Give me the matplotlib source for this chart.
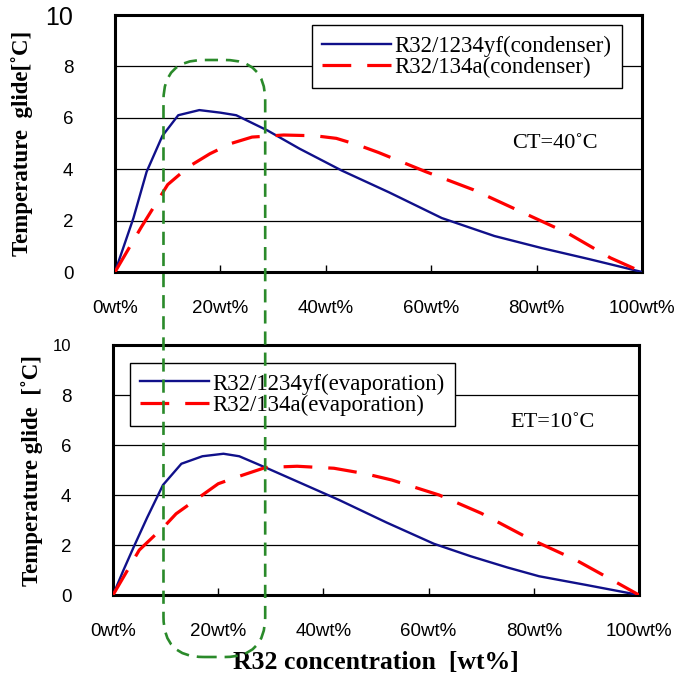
import matplotlib
matplotlib.use("Agg")
import matplotlib.pyplot as plt
from matplotlib.patches import FancyBboxPatch
from matplotlib.transforms import IdentityTransform

# condenser side, CT=40C
cond_yf_x = [0, 2, 3.5, 6, 9, 12, 16, 20, 23, 29, 35, 43, 52, 62, 72, 81, 90, 100]
cond_yf_y = [0, 1.2, 2.1, 3.9, 5.3, 6.1, 6.3, 6.2, 6.1, 5.5, 4.8, 3.95, 3.1, 2.1, 1.4, 0.93, 0.5, 0]
cond_134a_x = [0, 5, 10, 14, 18, 22, 26, 32, 38, 42, 46, 50, 59, 68, 77, 86, 94, 100]
cond_134a_y = [0, 1.75, 3.4, 4.1, 4.6, 5.0, 5.25, 5.33, 5.3, 5.2, 4.95, 4.65, 3.9, 3.2, 2.35, 1.5, 0.55, 0]

# evaporator side, ET=10C
evap_yf_x = [0, 2, 4, 6.5, 9.5, 13, 17, 21, 24, 29, 36, 43, 52, 61, 68, 75, 81, 90, 100]
evap_yf_y = [0, 1.0, 1.95, 3.1, 4.4, 5.25, 5.55, 5.65, 5.55, 5.1, 4.45, 3.8, 2.9, 2.05, 1.55, 1.1, 0.75, 0.4, 0]
evap_134a_x = [0, 5, 10, 12, 16, 20, 24, 29, 35, 42, 48, 53, 62, 70, 79, 88, 96, 100]
evap_134a_y = [0, 1.8, 2.8, 3.25, 3.85, 4.45, 4.75, 5.1, 5.15, 5.07, 4.85, 4.6, 4.0, 3.27, 2.27, 1.4, 0.47, 0]

xticks = [0, 20, 40, 60, 80, 100]
xticklabels = ["0wt%", "20wt%", "40wt%", "60wt%", "80wt%", "100wt%"]
yticks = [0, 2, 4, 6, 8, 10]
highlight = (9.2, 28.5)   # wt% range boxed in green

SERIF = ["Liberation Serif", "DejaVu Serif"]
SANS = ["Liberation Sans Narrow", "Liberation Sans", "DejaVu Sans"]

BLUE = "#10108a"
RED = "#ff0000"
GREEN = "#2a8a2a"

fig = plt.figure(figsize=(6.8, 6.85), dpi=100)
ax1 = fig.add_axes([115 / 680, 1 - 272 / 685, 527 / 680, 257 / 685])
ax2 = fig.add_axes([113 / 680, 1 - 595 / 685, 526 / 680, 250 / 685])


def style_axes(ax, ylabel, labels, legend_kw, note, note_y):
    ax.set_xlim(0, 100)
    ax.set_ylim(0, 10)
    ax.set_xticks(xticks)
    ax.set_xticklabels(xticklabels, family=SANS, fontsize=13.5)
    ax.set_yticks(yticks)
    ax.set_yticklabels([str(v) for v in yticks], family=SANS, fontsize=13.5)
    ax.tick_params(axis="x", direction="in", length=5, width=1, pad=20)
    ax.tick_params(axis="y", length=0, pad=30)
    for s in ax.spines.values():
        s.set_linewidth(2.2)
    for v in yticks[1:-1]:
        ax.axhline(v, color="black", lw=0.9, zorder=1)
    ax.set_ylabel(ylabel, family=SERIF, fontweight="bold", fontsize=16.5)
    leg = ax.legend(labels, prop={"family": SERIF, "size": 16.5}, fancybox=False,
                    framealpha=1, edgecolor="black", handlelength=3.0,
                    handletextpad=0.15, labelspacing=0.0, borderpad=0.45,
                    borderaxespad=0, **legend_kw)
    leg.get_frame().set_linewidth(1.0)
    ax.text(83.5, note_y, note, family=SERIF, fontsize=16, ha="center", va="center")


ax1.plot(cond_yf_x, cond_yf_y, color=BLUE, lw=1.7, zorder=3)
ax1.plot(cond_134a_x, cond_134a_y, color=RED, lw=2.3, linestyle=(0, (9, 5)), zorder=3)
style_axes(ax1, "Temperature  glide[\u02daC]",
           ["R32/1234yf(condenser)", "R32/134a(condenser)"],
           dict(loc="upper right", bbox_to_anchor=(0.962, 0.961)),
           "CT=40\u02daC", 5.0)
ax1.yaxis.set_label_coords(-0.155, 0.5)
ax1.get_yticklabels()[-1].set_fontsize(18)

ax2.plot(evap_yf_x, evap_yf_y, color=BLUE, lw=1.7, zorder=3)
ax2.plot(evap_134a_x, evap_134a_y, color=RED, lw=2.3, linestyle=(0, (9, 5)), zorder=3)
style_axes(ax2, "Temperature glide  [\u02daC]",
           ["R32/1234yf(evaporation)", "R32/134a(evaporation)"],
           dict(loc="upper left", bbox_to_anchor=(0.032, 0.928)),
           "ET=10\u02daC", 6.9)
ax2.yaxis.set_label_coords(-0.133, 0.5)
ax2.get_yticklabels()[-1].set_fontsize(12)
ax2.set_xlabel("R32 concentration  [wt%]", family=SERIF, fontweight="bold",
               fontsize=18.5, labelpad=8)

# green dashed rounded box across both panels (display pixels)
x0 = ax1.transData.transform((highlight[0], 0))[0]
x1 = ax1.transData.transform((highlight[1], 0))[0]
y_top = 685 - 60
y_bot = 685 - 657
box = FancyBboxPatch((x0, y_bot), x1 - x0, y_top - y_bot,
                     boxstyle="round,pad=0,rounding_size=40",
                     transform=IdentityTransform(), fill=False,
                     edgecolor=GREEN, lw=1.9, linestyle=(0, (5, 3)), zorder=10)
fig.add_artist(box)

fig.savefig("out.png", dpi=100)
